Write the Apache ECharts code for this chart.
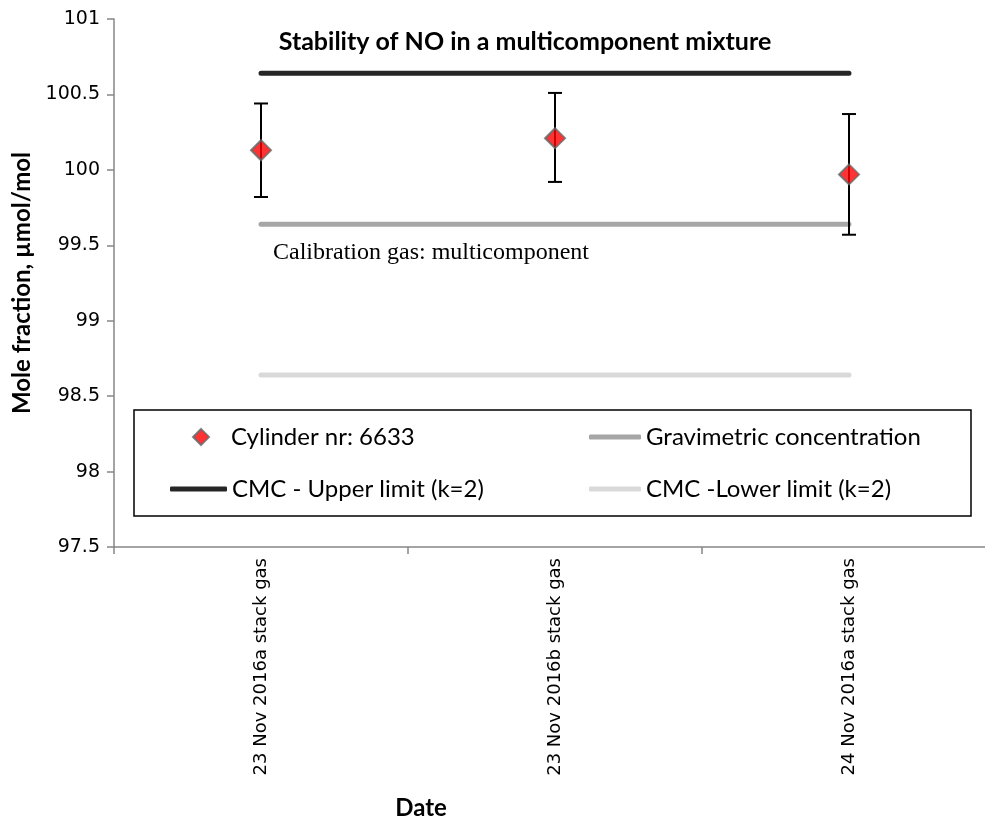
<!DOCTYPE html>
<html>
<head>
<meta charset="utf-8">
<script src="https://cdn.jsdelivr.net/npm/echarts@6/dist/echarts.min.js"></script>
<style>
    html, body { margin: 0; padding: 0; background: #fff; }
    #chart { width: 985px; height: 821px; }
</style>
</head>
<body>
<div id="chart"></div>
<script>
// data
const categories = ['23 Nov 2016a stack gas', '23 Nov 2016b stack gas', '24 Nov 2016a stack gas'];
const cylinderValues = [100.13, 100.21, 99.97];
const errorLow = [99.82, 99.92, 99.57];
const errorHigh = [100.44, 100.51, 100.37];
const gravimetric = [99.64, 99.64, 99.64];
const upperLimit = [100.64, 100.64, 100.64];
const lowerLimit = [98.64, 98.64, 98.64];
const yMin = 97.5, yMax = 101, yStep = 0.5;

const chart = echarts.init(document.getElementById('chart'));

const axisGrey = '#868686';
const latin = 'DejaVu Sans';
const calibri = 'Lato';

// error bars: vertical line + caps
const errorData = categories.map((c, i) => [i, errorLow[i], errorHigh[i]]);

function renderErrorBar(params, api) {
    const lo = api.coord([api.value(0), api.value(1)]);
    const hi = api.coord([api.value(0), api.value(2)]);
    const half = 7;
    const style = { stroke: '#000', lineWidth: 2 };
    return {
        type: 'group',
        children: [
            { type: 'line', shape: { x1: lo[0], y1: lo[1], x2: hi[0], y2: hi[1] }, style: style },
            { type: 'line', shape: { x1: lo[0] - half, y1: lo[1], x2: lo[0] + half, y2: lo[1] }, style: style },
            { type: 'line', shape: { x1: hi[0] - half, y1: hi[1], x2: hi[0] + half, y2: hi[1] }, style: style }
        ]
    };
}

const lineSeries = (name, data, color) => ({
    name: name,
    type: 'line',
    data: data,
    symbol: 'none',
    lineStyle: { color: color, width: 5, cap: 'round' },
    itemStyle: { color: color },
    z: 2
});

const legendText = { fontFamily: calibri, fontSize: 24, color: '#000', lineHeight: 24 };

// one legend per entry so each sits where the picture has it
function legendItem(name, left, top, w, h, icon, textPad) {
    return {
        left: left, top: top, padding: 0,
        itemWidth: w, itemHeight: h,
        textStyle: Object.assign({ padding: [0, 0, 0, textPad] }, legendText),
        data: [{ name: name, icon: icon }]
    };
}

const option = {
    animation: false,
    grid: { left: 114, top: 19, width: 882, height: 528, outerBoundsMode: 'none', containLabel: false },
    xAxis: {
        type: 'category',
        data: categories,
        boundaryGap: true,
        axisLine: { lineStyle: { color: axisGrey, width: 1.5 } },
        axisTick: { show: true, length: 7, lineStyle: { color: axisGrey, width: 1.5 } },
        axisLabel: { rotate: 90, interval: 0, margin: 11, fontFamily: latin, fontSize: 18, color: '#000' },
        splitLine: { show: false }
    },
    yAxis: {
        type: 'value',
        min: yMin, max: yMax, interval: yStep,
        name: 'Mole fraction, µmol/mol',
        nameLocation: 'middle',
        nameRotate: 90,
        nameGap: 80,
        nameTextStyle: { fontFamily: calibri, fontWeight: 'bold', fontSize: 24, color: '#000' },
        axisLine: { show: true, lineStyle: { color: axisGrey, width: 1.5 } },
        axisTick: { show: true, length: 7, lineStyle: { color: axisGrey, width: 1.5 } },
        axisLabel: { margin: 14, fontFamily: latin, fontSize: 19, color: '#000' },
        splitLine: { show: false }
    },
    legend: [
        legendItem('Cylinder nr: 6633', 192, 425, 16, 16, 'diamond', 17),
        legendItem('CMC - Upper limit (k=2)', 170, 477, 57, 5, 'roundRect', 0),
        legendItem('Gravimetric concentration', 589, 425, 52, 5, 'roundRect', 0),
        legendItem('CMC -Lower limit (k=2)', 589, 477, 52, 5, 'roundRect', 0)
    ],
    graphic: [
        {
            type: 'rect', z: 0,
            shape: { x: 134, y: 410, width: 837, height: 106 },
            style: { fill: '#fff', stroke: '#000', lineWidth: 1.5 }
        },
        {
            type: 'text', z: 10,
            style: {
                text: 'Stability of NO in a multicomponent mixture',
                x: 525, y: 42, textAlign: 'center', textVerticalAlign: 'middle',
                font: 'bold 25px Lato', fill: '#000'
            }
        },
        {
            type: 'text', z: 10,
            style: {
                text: 'Calibration gas: multicomponent',
                x: 273, y: 253, textAlign: 'left', textVerticalAlign: 'middle',
                font: '24px "Liberation Serif"', fill: '#000'
            }
        },
        {
            type: 'text', z: 10,
            style: {
                text: 'Date',
                x: 421, y: 808, textAlign: 'center', textVerticalAlign: 'middle',
                font: 'bold 24px Lato', fill: '#000'
            }
        }
    ],
    series: [
        lineSeries('CMC - Upper limit (k=2)', upperLimit, '#262626'),
        lineSeries('Gravimetric concentration', gravimetric, '#a6a6a6'),
        lineSeries('CMC -Lower limit (k=2)', lowerLimit, '#d9d9d9'),
        {
            name: 'Cylinder nr: 6633 error',
            type: 'custom',
            renderItem: renderErrorBar,
            data: errorData,
            z: 3
        },
        {
            name: 'Cylinder nr: 6633',
            type: 'scatter',
            data: cylinderValues,
            symbol: 'diamond',
            symbolSize: 20,
            itemStyle: { color: '#ff0000', borderColor: '#666666', borderWidth: 2 },
            z: 4
        }
    ]
};

chart.setOption(option);
</script>
</body>
</html>
